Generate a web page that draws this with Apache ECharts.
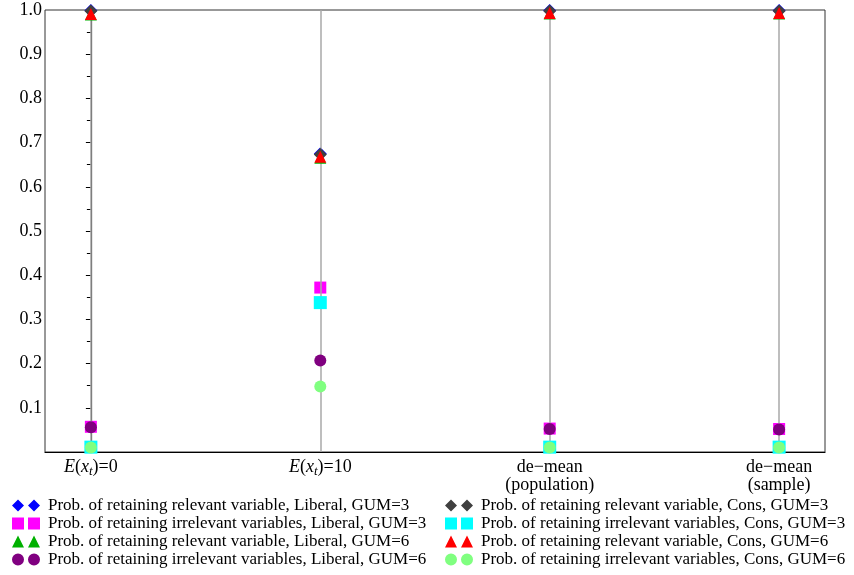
<!DOCTYPE html>
<html><head><meta charset="utf-8">
<script src="https://cdn.jsdelivr.net/npm/echarts@6/dist/echarts.min.js"></script>
<style>html,body{margin:0;padding:0;background:#fff}#c{width:854px;height:575px}</style>
</head><body><div id="c"></div>
<script>
const categories = ['E(x_t)=0', 'E(x_t)=10', 'de−mean\n(population)', 'de−mean\n(sample)'];
const yTicks = [0.1, 0.2, 0.3, 0.4, 0.5, 0.6, 0.7, 0.8, 0.9, 1.0];

const relLibGum3 = [0.999, 0.675, 0.999, 0.999];
const irrLibGum3 = [0.057, 0.372, 0.053, 0.052];
const relLibGum6 = [0.990, 0.666, 0.992, 0.992];
const irrLibGum6 = [0.056, 0.207, 0.052, 0.051];
const relConsGum3 = [0.998, 0.673, 0.998, 0.998];
const irrConsGum3 = [0.011, 0.338, 0.011, 0.011];
const relConsGum6 = [0.991, 0.668, 0.993, 0.993];
const irrConsGum6 = [0.010, 0.148, 0.010, 0.010];

const seriesNames = [
  'Prob. of retaining relevant variable, Liberal, GUM=3',
  'Prob. of retaining irrelevant variables, Liberal, GUM=3',
  'Prob. of retaining relevant variable, Liberal, GUM=6',
  'Prob. of retaining irrelevant variables, Liberal, GUM=6',
  'Prob. of retaining relevant variable, Cons, GUM=3',
  'Prob. of retaining irrelevant variables, Cons, GUM=3',
  'Prob. of retaining relevant variable, Cons, GUM=6',
  'Prob. of retaining irrelevant variables, Cons, GUM=6'
];
const seriesValues = [relLibGum3, irrLibGum3, relLibGum6, irrLibGum6, relConsGum3, irrConsGum3, relConsGum6, irrConsGum6];
const colors = ['#0000ff', '#ff00ff', '#00b000', '#800080', '#404040', '#00ffff', '#ff0000', '#80ff80'];
const symbols = ['diamond', 'rect', 'triangle', 'circle', 'diamond', 'rect', 'triangle', 'circle'];
const sizes = [13, 12, 12, 12, 13, 13, 12, 12];
const icons = {
  diamond: 'path://M6 0L12 6L6 12L0 6Z M22 0L28 6L22 12L16 6Z',
  rect: 'path://M0 0H12V12H0Z M16 0H28V12H16Z',
  triangle: 'path://M6 0L12 12H0Z M22 0L28 12H16Z',
  circle: 'path://M0 6A6 6 0 1 0 12 6A6 6 0 1 0 0 6Z M16 6A6 6 0 1 0 28 6A6 6 0 1 0 16 6Z'
};

const FONT = '"Liberation Serif", "DejaVu Serif", serif';

function fmtX(v) {
  const i = Math.round(v);
  const c = categories[i];
  if (c === undefined) return '';
  const m = c.match(/^E\(x_t\)=(.*)$/);
  if (m) return '{i|E}{n|(}{i|x}{sub|t}{n|)=' + m[1] + '}';
  return c.split('\n').map(s => '{n|' + s + '}').join('\n');
}

const series = seriesValues.map((vals, k) => {
  const s = {
    name: seriesNames[k],
    type: 'scatter',
    clip: false,
    symbol: symbols[k],
    symbolSize: sizes[k],
    itemStyle: { color: colors[k], opacity: 1 },
    data: vals.map((v, i) => [i, v]),
    z: 3 + k
  };
  if (k === 0) {
    s.markLine = {
      silent: true,
      symbol: 'none',
      label: { show: false },
      lineStyle: { color: '#a8a8a8', width: 1.5, type: 'solid' },
      emphasis: { disabled: true },
      data: categories.map((c, i) => ({ xAxis: i }))
    };
  }
  return s;
});

const legendText = { fontFamily: FONT, fontSize: 17, color: '#000', lineHeight: 17, padding: [0, 0, 0, 3] };

const chart = echarts.init(document.getElementById('c'), null, { renderer: 'canvas' });
chart.setOption({
  animation: false,
  backgroundColor: '#fff',
  textStyle: { fontFamily: FONT, color: '#000' },
  grid: { left: 45, right: 29, top: 10, bottom: 123, show: true, borderColor: '#333', borderWidth: 1, containLabel: false },
  legend: [
    {
      orient: 'vertical', left: 12, top: 497, padding: 0, itemGap: 1,
      itemWidth: 28, itemHeight: 12,
      textStyle: legendText,
      data: seriesNames.slice(0, 4).map((n, k) => ({ name: n, icon: icons[symbols[k]] }))
    },
    {
      orient: 'vertical', left: 445, top: 497, padding: 0, itemGap: 1,
      itemWidth: 28, itemHeight: 12,
      textStyle: legendText,
      data: seriesNames.slice(4).map((n, k) => ({ name: n, icon: icons[symbols[k + 4]] }))
    }
  ],
  xAxis: {
    type: 'value', min: -0.2, max: 3.2,
    axisLine: { show: true, lineStyle: { color: '#000', width: 1.2 } },
    axisTick: { show: false },
    splitLine: { show: false },
    axisLabel: {
      customValues: [0, 1, 2, 3],
      margin: 6,
      formatter: fmtX,
      color: '#000',
      rich: {
        n: { fontFamily: FONT, fontSize: 18, lineHeight: 18, color: '#000' },
        i: { fontFamily: FONT, fontSize: 18, lineHeight: 18, fontStyle: 'italic', color: '#000' },
        sub: { fontFamily: FONT, fontSize: 13, lineHeight: 18, fontStyle: 'italic', color: '#000', padding: [9, 0, 0, 0] }
      }
    }
  },
  yAxis: {
    type: 'value', min: 0, max: 1, interval: 0.1,
    axisLine: { show: true, lineStyle: { color: '#000', width: 1.2 } },
    axisTick: { show: true, length: 5, lineStyle: { color: '#000' } },
    minorTick: { show: true, splitNumber: 2, length: 4, lineStyle: { color: '#000' } },
    splitLine: { show: false },
    axisLabel: {
      margin: 3,
      fontFamily: FONT, fontSize: 18, color: '#000',
      formatter: v => (yTicks.some(t => Math.abs(t - v) < 1e-9) ? v.toFixed(1) : '')
    }
  },
  series: series
});
</script>
</body></html>
